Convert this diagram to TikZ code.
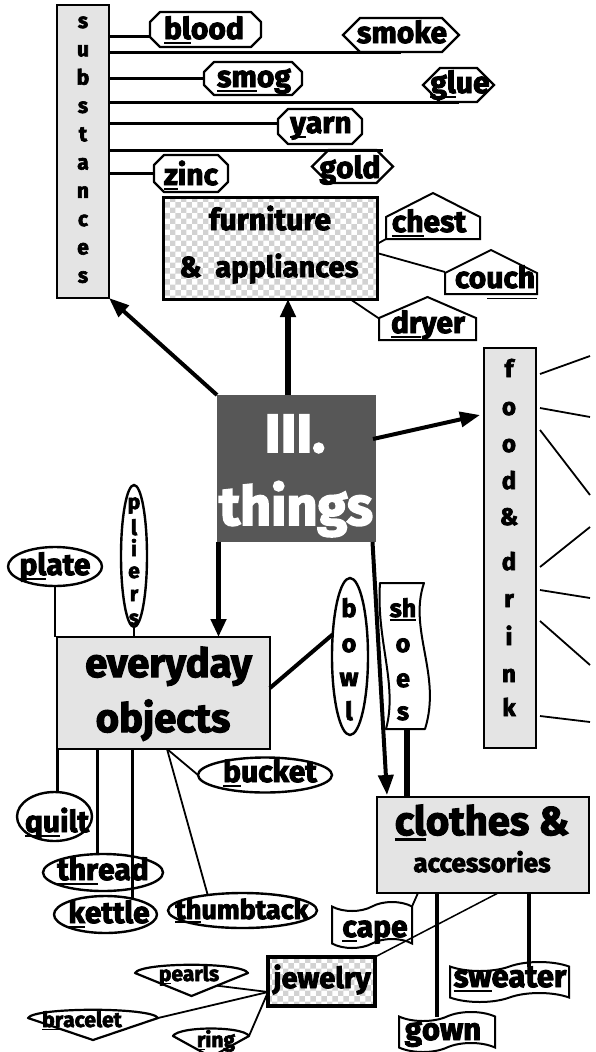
\documentclass[tikz,border=0pt]{standalone}
\usepackage{fontspec}
\setmainfont{Fira Sans}[BoldFeatures={FakeBold=3}]
\usetikzlibrary{shapes.geometric,shapes.misc,shapes.symbols,arrows.meta,patterns,calc}
\definecolor{boxgray}{HTML}{E4E4E4}
\definecolor{darkbox}{HTML}{575757}
\newcommand\ulx[1]{\setbox0=\hbox{#1}\rlap{\rule[-0.15em]{\wd0}{0.065em}}\box0}
\newcommand\myfs[1]{\fontsize{#1}{#1}\selectfont\bfseries}
\newcommand\gem[5]{%
  \coordinate (#1-c) at #2;
  \coordinate (#1-l) at ($(#1-c)+(-#3,0)$);
  \coordinate (#1-r) at ($(#1-c)+(#3,0)$);
  \coordinate (#1-tip) at ($(#1-c)+(0,#4)$);
  \draw[gemline] (#1-l) .. controls ($(#1-l)+(6,-#5)$) and ($(#1-r)+(-6,-#5)$) .. (#1-r) -- (#1-tip) -- cycle;}
\newcommand\octn[5]{%
  \node[minimum width=#3, minimum height=#4] (#1) at #2 {};
  \draw[octline] ([shift={(#5,0)}]#1.north west) -- ([shift={(-#5,0)}]#1.north east)
    -- ([shift={(0,#5)}]#1.north east) -- ([shift={(0,-#5)}]#1.south east)
    -- ([shift={(-#5,0)}]#1.south east) -- ([shift={(#5,0)}]#1.south west)
    -- ([shift={(0,-#5)}]#1.south west) -- ([shift={(0,#5)}]#1.north west) -- cycle;}
\newcommand\housen[5]{%
  \node[minimum width=#3, minimum height=#4] (#1) at #2 {};
  \draw[houseline] (#1.south west) -- (#1.south east) -- ([shift={(0,#5)}]#1.north east)
    -- (#1.north) -- ([shift={(0,#5)}]#1.north west) -- cycle;}
\begin{document}
\begin{tikzpicture}[x=1pt,y=-1pt,
  every node/.style={inner sep=0pt, outer sep=0pt},
  cat/.style={draw, line width=1.3pt, fill=boxgray},
  check/.style={draw, line width=3pt, preaction={fill=white}, pattern=checkerboard, pattern color=gray!35},
  octline/.style={line width=2.4pt, line join=round},
  houseline/.style={line width=2pt, line join=miter},
  hexa/.style={signal, signal to=west and east, signal pointer angle=90, draw, line width=2.4pt},
  ell/.style={ellipse, draw, line width=2.4pt},
  flag/.style={tape, tape bend top=in and out, tape bend bottom=in and out, tape bend height=9pt, draw, line width=2pt},
  gemline/.style={line width=2.2pt, line join=round},
  lbl/.style={font=\myfs{#1}, anchor=base},
  lbl/.default=30,
  sline/.style={line width=3pt},
  fline/.style={line width=1.8pt},
  jline/.style={line width=1.5pt},
  vline/.style={line width=2.5pt},
  vlinek/.style={line width=3pt},
  bline/.style={line width=4pt},
  gline/.style={line width=3.5pt},
  shoe/.style={line width=5.5pt},
  arr/.style={line width=4pt, -{Triangle[length=20pt,width=15pt]}},
  arrthick/.style={line width=5.5pt, -{Triangle[length=18pt,width=15pt]}},
]
\useasboundingbox (0,0) rectangle (595,1052);

% ---------- substances ----------
\node[cat, minimum width=52, minimum height=293] (subst) at (83,151.5) {};
\foreach \ch [count=\i] in {s,u,b,s,t,a,n,c,e,s}
  \node[lbl=21] (subst-\i) at (83,{28+28.3*(\i-1)}) {\ch};

\octn{blood}{(205.5,29.5)}{111}{35}{10}
\node[lbl] (blood-t) at (204,39) {\ulx{bl}ood};
\node[hexa, minimum width=116, minimum height=34] (smoke) at (401,35) {};
\node[lbl] (smoke-t) at (402,43) {smoke};
\octn{smog}{(253,78.5)}{98}{33}{10}
\node[lbl] (smog-t) at (254,87) {\ulx{sm}og};
\node[hexa, minimum width=71, minimum height=34] (glue) at (458.5,85) {};
\node[lbl] (glue-t) at (460,93) {\ulx{gl}ue};
\octn{yarn}{(320,126.5)}{84}{35}{10}
\node[lbl] (yarn-t) at (321,133) {\ulx{y}arn};
\node[hexa, minimum width=81, minimum height=33] (gold) at (352.5,166.5) {};
\node[lbl] (gold-t) at (350,178) {\ulx{g}old};
\octn{zinc}{(191,173.5)}{74}{37}{10}
\node[lbl] (zinc-t) at (191,185) {\ulx{z}inc};

\path ([shift={(0,6.5)}]blood.west) coordinate (blood-in);
\draw[sline] (subst.east |- blood-in) -- (blood-in);
\draw[sline] (subst.east |- smoke.south) -- (smoke.south);
\draw[sline] (subst.east |- smog.west) -- (smog.west);
\draw[sline] (subst.east |- glue.south) -- (glue.south);
\path ([shift={(0,-3.5)}]yarn.west) coordinate (yarn-in);
\draw[sline] (subst.east |- yarn-in) -- (yarn-in);
\path ([shift={(30,0)}]gold.north) coordinate (gold-in);
\draw[sline] (subst.east |- gold-in) -- (gold-in);
\draw[sline] (subst.east |- zinc.west) -- (zinc.west);

% ---------- furniture ----------
\node[check, minimum width=214, minimum height=102] (furn) at (270,248) {};
\node[lbl] (furn-1) at (270,230) {furniture};
\node[lbl=29] (furn-2) at (269,277) {\&\ \ appliances};
\housen{chest}{(433,216)}{94}{46}{24}
\node[lbl] (chest-t) at (429,232) {\ulx{ch}est};
\housen{couch}{(491,272)}{92}{44}{23}
\node[lbl] (couch-t) at (495,288) {couch};
\housen{dryer}{(427.5,318.5)}{97}{43}{21}
\node[lbl] (dryer-t) at (428,333) {\ulx{dr}yer};
\draw[fline] ([shift={(0,-4)}]furn.east) -- (chest.south west);
\draw[fline] ([shift={(0,5)}]furn.east) -- (couch.west);
\draw[fline] ([shift={(-27,0)}]furn.south east) -- (dryer.west);
\draw[line width=1pt] ([shift={(-4,4)}]couch.south) -- ([shift={(46,4)}]couch.south);

% ---------- things ----------
\node[fill=darkbox, minimum width=159, minimum height=147] (things) at (296.5,468.5) {};
\node[lbl=54, text=white] (things-1) at (295,452) {III.};
\node[lbl=54, text=white] (things-2) at (296,525) {things};

% ---------- food ----------
\node[cat, minimum width=52, minimum height=400] (food) at (510,548) {};
\foreach \ch/\yy [count=\i] in {f/377,o/415,o/452,d/489,\&/525,d/570,r/607,i/645,n/682,k/716}
  \node[lbl=24] (food-\i) at (509,\yy) {\ch};
\foreach \ya/\yb [count=\i] in {374/356,408/417,430/495,567/527,590/598,621/665,716/722}{
  \coordinate (fs\i) at ([shift={(4,\ya-548)}]food.east);
  \coordinate (fe\i) at (590,\yb);
  \draw[fline] (fs\i) -- (fe\i);}

% ---------- everyday ----------
\node[cat, minimum width=213, minimum height=112] (every) at (163.5,693) {};
\node[lbl=40] (every-1) at (168.5,677) {everyday};
\node[lbl=40] (every-2) at (163,732) {objects};

\node[ell, minimum width=94, minimum height=39] (plate) at (55,566.5) {};
\node[lbl] (plate-t) at (55,575) {\ulx{pl}ate};
\node[ell, minimum width=26, minimum height=142] (pliers) at (134,556) {};
\foreach \ch/\yy [count=\i] in {p/509,l/535,i/556,e/578,r/601,s/625}
  \node[lbl=21] (pliers-\i) at (134,\yy) {\ch};
\node[ell, minimum width=36, minimum height=157] (bowl) at (350,656.5) {};
\foreach \ch/\yy [count=\i] in {b/617,o/652,w/686,l/720}
  \node[lbl=25] (bowl-\i) at (349,\yy) {\ch};
\node[ell, minimum width=134, minimum height=35] (bucket) at (265,775) {};
\node[lbl] (bucket-t) at (270,782) {\ulx{b}ucket};
\node[ell, minimum width=75, minimum height=49] (quilt) at (54.5,816.5) {};
\node[lbl] (quilt-t) at (57,832) {\ulx{qu}ilt};
\node[ell, minimum width=120, minimum height=37] (thread) at (103,872.5) {};
\node[lbl] (thread-t) at (103,880) {\ulx{thr}ead};
\node[ell, minimum width=103, minimum height=37] (kettle) at (105.5,914.5) {};
\node[lbl] (kettle-t) at (109,923) {\ulx{k}ettle};
\node[ell, minimum width=149, minimum height=35] (thumbtack) at (242.5,910.5) {};
\node[lbl=27] (thumbtack-t) at (242,919) {\ulx{th}umbtack};

\draw[bline] ([shift={(0,-5)}]every.east) -- (bowl.128);
\draw[vline] (plate.south) -- (plate.south |- every.north);
\draw[vline] (pliers.south) -- (pliers.south |- every.north);
\coordinate (qu0) at ([shift={(2.5,0)}]quilt.north);
\draw[vlinek] (qu0 |- every.south) -- (qu0);
\coordinate (th0) at ([shift={(-6,0)}]thread.north);
\draw[vlinek] (th0 |- every.south) -- (th0);
\coordinate (ke0) at ([shift={(26.5,-16)}]kettle.center);
\draw[vlinek] (ke0 |- every.south) -- (ke0);
\coordinate (ev0) at ([shift={(3.5,0)}]every.south);
\draw[fline] (ev0) -- (bucket.west);
\draw[fline] (ev0) -- (thumbtack.156);

% ---------- shoes ----------
\draw[line width=2pt, line join=round] (380,583) -- (424,583) .. controls (408,630) and (442,675) .. (425,729) -- (386,729) .. controls (398,685) and (376,640) .. (380,583) -- cycle;
\coordinate (shoes-b) at (407,729);
\foreach \ch/\yy [count=\i] in {\ulx{sh}/617,o/652,e/687,s/720}
  \node[lbl=25] (shoes-\i) at (403,\yy) {\ch};

% ---------- clothes ----------
\node[cat, minimum width=212, minimum height=96] (clothes) at (483,845) {};
\node[lbl=40] (clothes-1) at (482,835) {\ulx{cl}othes \&};
\node[lbl=26] (clothes-2) at (482,872) {accessories};
\draw[shoe] (shoes-b) -- (shoes-b |- clothes.north);

\node[flag, minimum width=80, minimum height=46] (cape) at (372,925) {};
\node[lbl] (cape-t) at (375,937) {\ulx{c}ape};
\node[check, line width=3.5pt, minimum width=107, minimum height=49] (jewel) at (321.5,981.5) {};
\node[lbl=29] (jewel-t) at (322,988) {jewelry};
\node[flag, minimum width=119, minimum height=40] (sweater) at (509.5,982) {};
\node[lbl=31] (sweater-t) at (510,987) {\ulx{sw}eater};
\node[flag, minimum width=96, minimum height=40] (gown) at (447,1032) {};
\node[lbl=31] (gown-t) at (443,1040) {\ulx{g}own};

\coordinate (cl1) at ([shift={(41,0)}]clothes.south west);
\draw[fline] (cl1) -- (cape.north east);
\coordinate (cl2) at ([shift={(121,0)}]clothes.south west);
\draw[jline] (cl2) -- (jewel.north east);
\coordinate (cl3) at ([shift={(60,0)}]clothes.south west);
\draw[gline] (cl3) -- (cl3 |- gown.north);
\coordinate (cl4) at ([shift={(152,0)}]clothes.south west);
\draw[gline] (cl4) -- (cl4 |- sweater.north);

% ---------- jewelry items ----------
\gem{pearls}{(191.5,973)}{56.5}{23}{11}
\node[lbl=21] (pearls-t) at (189,981) {\ulx{p}earls};
\gem{bracelet}{(93,1018)}{65}{22}{11}
\node[lbl=21] (bracelet-t) at (82,1027) {\ulx{br}acelet};
\gem{ring}{(211,1036)}{38}{21}{10}
\node[lbl=21] (ring-t) at (216,1047) {\ulx{r}ing};
\coordinate (jw) at ([shift={(0,10.5)}]jewel.west);
\draw[fline] ($(pearls-r)!0.55!(pearls-tip)$) -- (jw);
\draw[fline] (bracelet-r) -- (jw);
\draw[fline] (ring-r) -- (jw);

% ---------- main arrows ----------
\draw[arr] (things.north west) -- (subst.south east);
\coordinate (up0) at ([shift={(-8.5,0)}]things.north);
\draw[arrthick] (up0) -- (up0 |- furn.south);
\coordinate (fa0) at ([shift={(-3,-29.5)}]things.east);
\coordinate (fa1) at ([shift={(-4,-133)}]food.west);
\draw[arr] (fa0) -- (fa1);
\coordinate (dn0) at ([shift={(1.5,0)}]things.south west);
\draw[arrthick] (dn0) -- (dn0 |- every.north);
\coordinate (lg0) at ([shift={(-3.5,0)}]things.south east);
\coordinate (lg1) at ([shift={(10,-2)}]clothes.north west);
\draw[arr] (lg0) -- (lg1);
\end{tikzpicture}
\end{document}
